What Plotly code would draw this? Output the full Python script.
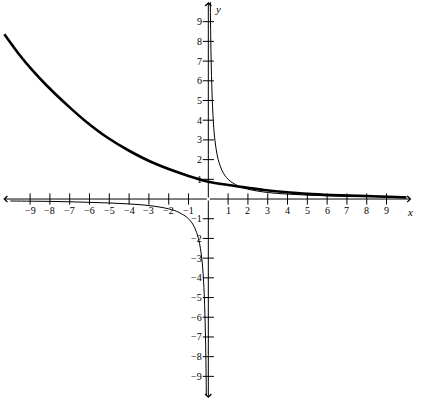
import plotly.graph_objects as go

# thick curve (decaying exponential)
exp_x = [-10.3, -9.6, -8.9, -8.2, -7.0, -6.2, -5.1, -4.0, -2.7, -1.0, 0, 1, 2, 2.8, 3.7, 5, 6.2, 8, 9.5, 10]
exp_y = [8.36, 7.4, 6.55, 5.8, 4.65, 3.95, 3.12, 2.45, 1.8, 1.17, 0.88, 0.71, 0.57, 0.46, 0.37, 0.26, 0.2, 0.15, 0.1, 0.08]

# thin curve (hyperbola), two branches
hyp_pos_x = [0.1, 0.12, 0.15, 0.2, 0.25, 0.3, 0.4, 0.5, 0.7, 1, 1.5, 2, 3, 4, 5, 6, 7, 8, 9, 10]
hyp_pos_y = [10, 8.3, 6.7, 5, 4, 3.3, 2.5, 2, 1.43, 1, 0.67, 0.5, 0.33, 0.25, 0.2, 0.17, 0.14, 0.12, 0.11, 0.1]
hyp_neg_x = [-10, -9, -8, -7, -6, -5, -4, -3, -2, -1.5, -1, -0.7, -0.5, -0.4, -0.3, -0.25, -0.2, -0.15, -0.12, -0.1]
hyp_neg_y = [-0.1, -0.11, -0.12, -0.14, -0.17, -0.2, -0.25, -0.33, -0.5, -0.67, -1, -1.43, -2, -2.5, -3.3, -4, -5, -6.7, -8.3, -10]

tick_vals = [-9, -8, -7, -6, -5, -4, -3, -2, -1, 1, 2, 3, 4, 5, 6, 7, 8, 9]
tick_text = [("\u2212" + str(-v)) if v < 0 else str(v) for v in tick_vals]

FONT = "Liberation Serif"
zeros = [0] * len(tick_vals)

fig = go.Figure()

# curves
fig.add_trace(go.Scatter(x=exp_x, y=exp_y, mode="lines",
                         line=dict(color="black", width=2.6, shape="spline", smoothing=0.8),
                         hoverinfo="none"))
fig.add_trace(go.Scatter(x=hyp_pos_x, y=hyp_pos_y, mode="lines",
                         line=dict(color="black", width=1, shape="spline"),
                         hoverinfo="none"))
fig.add_trace(go.Scatter(x=hyp_neg_x, y=hyp_neg_y, mode="lines",
                         line=dict(color="black", width=1, shape="spline"),
                         hoverinfo="none"))

# tick marks crossing the axes
fig.add_trace(go.Scatter(x=tick_vals, y=zeros, mode="markers",
                         marker=dict(symbol="line-ns", size=8,
                                     line=dict(color="black", width=1)),
                         hoverinfo="none"))
fig.add_trace(go.Scatter(x=zeros, y=tick_vals, mode="markers",
                         marker=dict(symbol="line-ew", size=8,
                                     line=dict(color="black", width=1)),
                         hoverinfo="none"))

# tick labels
for v, t in zip(tick_vals, tick_text):
    fig.add_annotation(x=v, y=0, text=t, showarrow=False,
                       xanchor="center", yanchor="top", yshift=-4,
                       font=dict(family=FONT, size=10, color="black"))
    fig.add_annotation(x=0, y=v, text=t, showarrow=False,
                       xanchor="right", yanchor="middle", xshift=-4,
                       font=dict(family=FONT, size=10, color="black"))

# axes with arrows
arrows = [(10.25, 0), (-10.35, 0), (0, 10.0), (0, -10.1)]
for hx, hy in arrows:
    fig.add_annotation(x=hx, y=hy, ax=0, ay=0, xref="x", yref="y",
                       axref="x", ayref="y", showarrow=True,
                       arrowhead=4, arrowsize=1.2, arrowwidth=1,
                       arrowcolor="black", text="")

fig.add_annotation(x=10.2, y=0, text="<i>x</i>", showarrow=False,
                   xanchor="center", yanchor="top", yshift=-5,
                   font=dict(family=FONT, size=11, color="black"))
fig.add_annotation(x=0.25, y=10.05, text="<i>y</i>", showarrow=False,
                   xanchor="left", yanchor="top",
                   font=dict(family=FONT, size=11, color="black"))

fig.update_layout(
    width=421,
    height=401,
    margin=dict(l=0, r=0, t=0, b=0),
    showlegend=False,
    plot_bgcolor="white",
    paper_bgcolor="white",
    xaxis=dict(range=[-10.52, 10.74], visible=False, fixedrange=True),
    yaxis=dict(range=[-10.25, 10.1], visible=False, fixedrange=True),
)

fig.write_html("out.html", config={"displayModeBar": False},
               post_script="document.body.style.margin='0';")
